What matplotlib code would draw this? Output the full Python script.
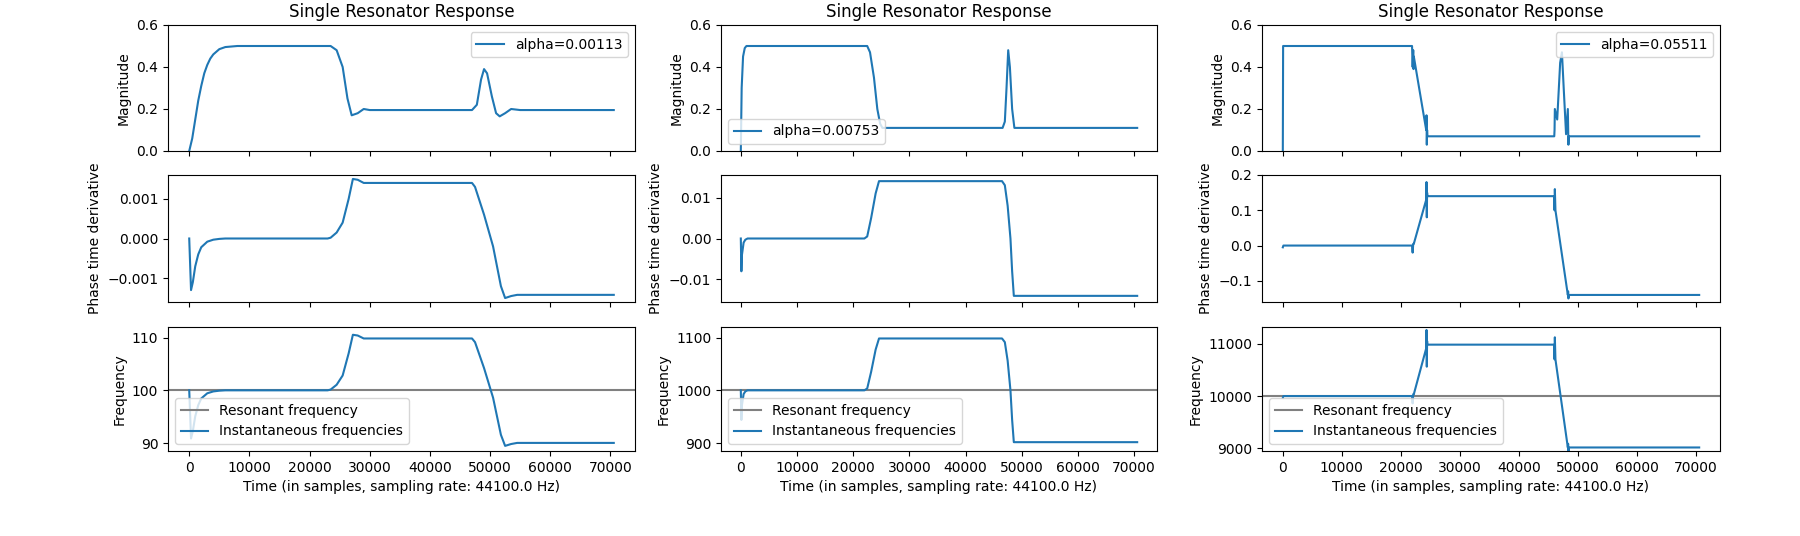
import numpy as np
import matplotlib.pyplot as plt

sr = 44100.0
alphas = ['0.00113', '0.00753', '0.05511']
res_freqs = [100, 1000, 10000]

# keypoints: (time, value)
mag_t = [
    [0, 500, 1000, 1500, 2000, 2500, 3000, 3500, 4000, 5000, 6000, 8000, 23500, 24500, 25500, 26300, 27000, 28000, 29000, 30000, 47000, 47800, 48500, 49000, 49500, 50300, 51000, 51600, 52500, 53500, 55000, 70560],
    [0, 150, 400, 700, 1000, 22500, 23000, 23700, 24300, 24800, 25200, 46600, 47000, 47300, 47600, 47900, 48300, 48700, 70560],
    [0, 50, 100, 200, 21900, 22000, 22100, 22150, 22200, 24300, 24350, 24400, 24450, 24500, 46000, 46050, 46100, 46500, 47000, 47300, 47600, 48000, 48300, 48400, 48450, 70560],
]
mag_v = [
    [0, 0.06, 0.15, 0.24, 0.31, 0.37, 0.41, 0.44, 0.46, 0.485, 0.495, 0.5, 0.5, 0.48, 0.4, 0.25, 0.17, 0.18, 0.2, 0.195, 0.195, 0.22, 0.34, 0.39, 0.37, 0.26, 0.18, 0.165, 0.18, 0.2, 0.195, 0.195],
    [0, 0.3, 0.45, 0.49, 0.5, 0.5, 0.47, 0.35, 0.2, 0.13, 0.11, 0.11, 0.14, 0.3, 0.48, 0.4, 0.2, 0.11, 0.11],
    [0, 0.5, 0.5, 0.5, 0.5, 0.4, 0.48, 0.39, 0.45, 0.1, 0.17, 0.03, 0.1, 0.07, 0.07, 0.1, 0.2, 0.15, 0.42, 0.47, 0.3, 0.08, 0.2, 0.03, 0.07, 0.07],
]
ph_t = [
    [0, 300, 600, 1000, 1500, 2000, 3000, 4000, 5000, 6000, 23000, 23500, 24500, 25500, 26500, 27200, 28000, 29000, 47000, 47500, 49000, 50500, 51800, 52500, 53500, 54500, 70560],
    [0, 100, 200, 500, 800, 1200, 22000, 22500, 23200, 24000, 24600, 46500, 47000, 47500, 48000, 48300, 48600, 70560],
    [0, 100, 21900, 22000, 22100, 22200, 24300, 24350, 24400, 24450, 24500, 46000, 46050, 46100, 46200, 48300, 48350, 48400, 48500, 70560],
]
ph_v = [
    [0, -0.0013, -0.0011, -0.0007, -0.0004, -0.00022, -0.00008, -0.00003, -0.00001, 0, 0, 0.00002, 0.00015, 0.0004, 0.001, 0.0015, 0.00148, 0.0014, 0.0014, 0.0013, 0.0006, -0.0002, -0.0012, -0.0015, -0.00145, -0.00142, -0.00142],
    [0, -0.008, -0.004, -0.001, -0.0003, 0, 0, 0.0005, 0.005, 0.011, 0.014, 0.014, 0.013, 0.008, 0.0, -0.008, -0.014, -0.014],
    [-0.005, 0, 0, -0.02, 0.005, 0.005, 0.13, 0.18, 0.08, 0.15, 0.14, 0.14, 0.1, 0.16, 0.1, -0.14, -0.13, -0.15, -0.14, -0.14],
]
ylims_ph = [(-0.0016, 0.0016), (-0.0155, 0.0155), (-0.16, 0.2)]
ylims_fr = [(88.5, 112), (885, 1120), (8950, 11320)]
mag_leg_loc = ['upper right', 'lower left', 'upper right']

fig = plt.figure(figsize=(18, 5.36), dpi=100)
lefts = [168 / 1800, 721 / 1800, 1262 / 1800]
widths = [467 / 1800, 436 / 1800, 458 / 1800]
rows = [(25, 151), (175, 302), (327, 451)]

for c in range(3):
    axs = []
    for top, bot in rows:
        axs.append(fig.add_axes([lefts[c], 1 - bot / 536, widths[c], (bot - top) / 536]))
    t = np.array(ph_t[c])
    dphi = np.array(ph_v[c])
    axs[0].plot(mag_t[c], mag_v[c], label='alpha=' + alphas[c])
    axs[0].set_ylim(0, 0.6)
    axs[0].set_ylabel('Magnitude')
    axs[0].set_title('Single Resonator Response')
    axs[0].legend(loc=mag_leg_loc[c])
    axs[1].plot(t, dphi)
    axs[1].set_ylim(*ylims_ph[c])
    axs[1].set_ylabel('Phase time derivative')
    f0 = res_freqs[c]
    axs[2].axhline(f0, color='gray', label='Resonant frequency')
    axs[2].plot(t, f0 + dphi * sr / (2 * np.pi), label='Instantaneous frequencies')
    axs[2].set_ylim(*ylims_fr[c])
    axs[2].set_ylabel('Frequency')
    axs[2].legend(loc='lower left')
    axs[2].set_xlabel('Time (in samples, sampling rate: 44100.0 Hz)')
    for a in axs:
        a.set_xlim(-3528, 74088)
        a.set_xticks(range(0, 70001, 10000))
    for a in axs[:2]:
        a.set_xticklabels([])

fig.savefig('out.png')
